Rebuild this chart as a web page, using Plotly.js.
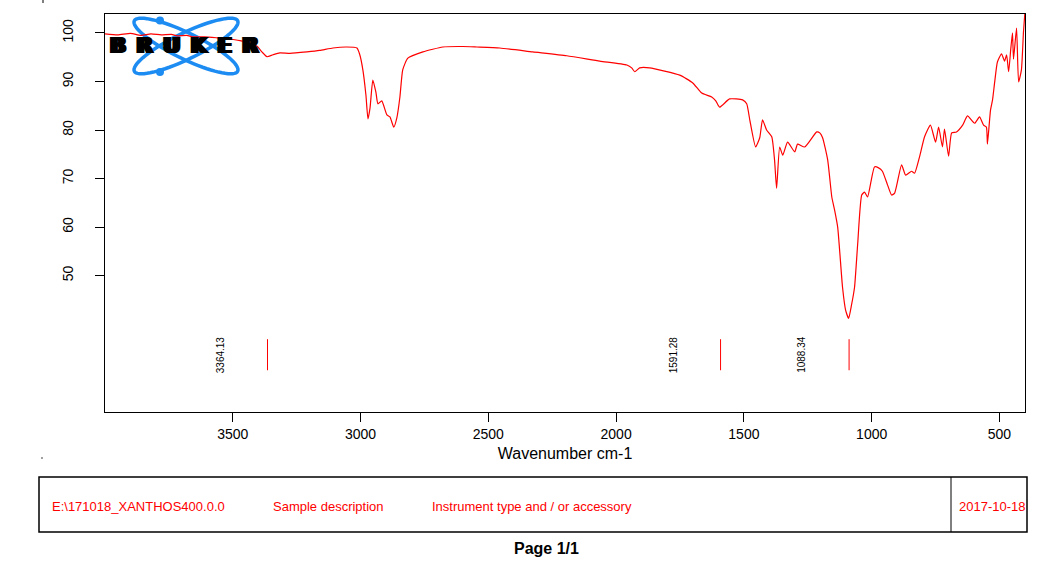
<!DOCTYPE html>
<html>
<head>
<meta charset="utf-8">
<script src="https://cdn.plot.ly/plotly-3.0.1.min.js"></script>
<style>html,body{margin:0;padding:0;background:#fff;}#chart{width:1042px;height:565px;}</style>
</head>
<body>
<div id="chart"></div>
<script>
// ---- Data ----
const wavenumber = [
  4000, 3950, 3900, 3860, 3820, 3780, 3740, 3718, 3680, 3656,
  3610, 3562, 3520, 3472, 3440, 3406, 3386, 3366, 3343, 3316,
  3276, 3210, 3160, 3108, 3054, 3014, 3003, 2991, 2979, 2971,
  2963, 2952, 2940, 2932, 2917, 2897, 2885, 2870, 2858, 2846,
  2835, 2815, 2756, 2678, 2600, 2545, 2455, 2326, 2193, 2064,
  1958, 1939, 1927, 1908, 1869, 1751, 1700, 1665, 1626, 1610,
  1595, 1556, 1505, 1489, 1477, 1454, 1438, 1427, 1411, 1391,
  1380, 1372, 1360, 1348, 1329, 1301, 1290, 1262, 1215, 1203,
  1192, 1172, 1156, 1145, 1133, 1114, 1102, 1090, 1079, 1067,
  1055, 1039, 1028, 1016, 989, 973, 958, 938, 922, 910,
  883, 867, 844, 832, 813, 793, 770, 750, 738, 723,
  715, 699, 687, 668, 644, 625, 597, 578, 562, 551,
  547, 535, 527, 519, 508, 492, 480, 472, 464, 456,
  449, 445, 433, 425, 414, 406, 400
];
const transmittance = [
  99.8, 99.6, 99.9, 99.5, 99.8, 99.6, 99.7, 99.4, 99.5, 99.2,
  99.2, 99.0, 98.8, 98.4, 97.9, 97.3, 96.1, 95.1, 95.5, 95.9,
  95.8, 96.1, 96.4, 96.9, 97.1, 96.9, 95.5, 92.4, 87.2, 82.3,
  84.5, 90.3, 87.8, 85.4, 86.0, 83.1, 82.7, 80.6, 82.5, 86.8,
  92.4, 94.8, 96.1, 97.1, 97.2, 97.1, 96.9, 96.1, 95.3, 94.2,
  93.4, 92.8, 92.0, 92.8, 92.8, 91.3, 89.7, 87.6, 86.8, 86.0,
  84.7, 86.4, 86.2, 85.4, 82.1, 76.5, 78.4, 82.1, 80.0, 78.6,
  73.8, 68.0, 76.5, 74.8, 77.5, 75.5, 77.1, 76.5, 79.6, 79.4,
  78.4, 73.8, 66.2, 63.5, 60.0, 47.6, 42.9, 41.2, 43.9, 47.6,
  56.3, 66.6, 67.2, 66.2, 72.4, 72.2, 71.5, 68.7, 66.6, 67.0,
  72.8, 70.7, 71.5, 71.1, 74.4, 78.6, 81.0, 77.5, 80.6, 76.5,
  80.2, 74.6, 79.4, 79.6, 81.0, 82.9, 81.4, 82.7, 81.0, 80.6,
  77.1, 84.1, 86.2, 89.7, 94.0, 95.7, 94.2, 95.5, 92.0, 96.5,
  100.0, 94.6, 101.0, 89.9, 92.4, 100.2, 104.5
];
const peakWavenumbers = [3364.13, 1591.28, 1088.34];
const peakLabels = ["3364.13", "1591.28", "1088.34"];
const peakMarkTop = 36.9;
const peakMarkBottom = 30.5;
const xTicks = [3500, 3000, 2500, 2000, 1500, 1000, 500];
const yTicks = [50, 60, 70, 80, 90, 100];
const footerTexts = ["E:\\171018_XANTHOS400.0.0", "Sample description", "Instrument type and / or accessory"];
const footerDate = "2017-10-18";
const pageLabel = "Page 1/1";
const xTitle = "Wavenumber cm-1";
const logoText = "BRUKER";

// ---- Geometry helpers (pixel -> paper) ----
const W = 1042, H = 565;
const M = {l: 105, r: 17, t: 14, b: 153};
const PW = W - M.l - M.r, PH = H - M.t - M.b;
const px = v => (v - M.l) / PW;
const py = v => (H - M.b - v) / PH;

const FONT = "Liberation Sans, Arial, sans-serif";

// peak marker trace
const pkX = [], pkY = [];
peakWavenumbers.forEach(w => { pkX.push(w, w, null); pkY.push(peakMarkTop, peakMarkBottom, null); });

const traces = [
  {x: wavenumber, y: transmittance, type: 'scatter', mode: 'lines',
   line: {color: '#ff0000', width: 1.2, shape: 'spline', smoothing: 0.5}, hoverinfo: 'skip'},
  {x: pkX, y: pkY, type: 'scatter', mode: 'lines',
   line: {color: '#ff0000', width: 1}, hoverinfo: 'skip'}
];

// logo ellipses (decoration)
function ellipsePath(cx, cy, a, b, thDeg) {
  const th = thDeg * Math.PI / 180;
  let d = '';
  for (let i = 0; i <= 72; i++) {
    const t = i / 72 * 2 * Math.PI;
    const X = cx + a * Math.cos(t) * Math.cos(th) - b * Math.sin(t) * Math.sin(th);
    const Y = cy + a * Math.cos(t) * Math.sin(th) + b * Math.sin(t) * Math.cos(th);
    d += (i === 0 ? 'M' : 'L') + px(X).toFixed(5) + ',' + py(Y).toFixed(5);
  }
  return d + 'Z';
}
const BLUE = '#1c8cf2';
const shapes = [
  {type: 'path', xref: 'paper', yref: 'paper', path: ellipsePath(186, 46, 57.5, 13, 26), line: {color: BLUE, width: 3.5}, layer: 'below'},
  {type: 'path', xref: 'paper', yref: 'paper', path: ellipsePath(186, 46, 57.5, 13, -26), line: {color: BLUE, width: 3.5}, layer: 'below'},
  {type: 'circle', xref: 'paper', yref: 'paper', x0: px(156), x1: px(164), y0: py(16.5), y1: py(24.5), fillcolor: BLUE, line: {width: 0}, layer: 'below'},
  {type: 'circle', xref: 'paper', yref: 'paper', x0: px(156), x1: px(164), y0: py(68), y1: py(76), fillcolor: BLUE, line: {width: 0}, layer: 'below'},
  // footer box
  {type: 'rect', xref: 'paper', yref: 'paper', x0: px(39), x1: px(1027), y0: py(477), y1: py(532), line: {color: '#000', width: 1.5}},
  {type: 'line', xref: 'paper', yref: 'paper', x0: px(951), x1: px(951), y0: py(477), y1: py(532), line: {color: '#000', width: 1}},
  // tiny page marks
  {type: 'line', xref: 'paper', yref: 'paper', x0: px(43), x1: px(43), y0: py(0), y1: py(3), line: {color: '#000', width: 1}},
  {type: 'circle', xref: 'paper', yref: 'paper', x0: px(41.3), x1: px(42.7), y0: py(457.3), y1: py(458.7), fillcolor: '#000', line: {width: 0}}
];

const annotations = [];
peakWavenumbers.forEach((w, i) => {
  annotations.push({x: w, y: (peakMarkTop + peakMarkBottom) / 2, xref: 'x', yref: 'y', text: peakLabels[i],
    showarrow: false, textangle: -90, xshift: -47, font: {family: FONT, size: 10, color: '#000'}});
});
annotations.push({x: px(184), y: py(46), xref: 'paper', yref: 'paper', text: '<b>' + logoText.split('').join('\u2002') + '</b>',
  showarrow: false, xanchor: 'center', yanchor: 'middle',
  font: {family: 'DejaVu Sans, sans-serif', size: 21, color: '#000',
         shadow: '2px 0 0 #000, -2px 0 0 #000, 1px 0 0 #000, -1px 0 0 #000'}});
const footerX = [50, 271, 430];
footerTexts.forEach((t, i) => {
  annotations.push({x: px(footerX[i]), y: py(506), xref: 'paper', yref: 'paper', text: t, showarrow: false,
    xanchor: 'left', yanchor: 'middle', font: {family: FONT, size: 13, color: '#ff0000'}});
});
annotations.push({x: px(957), y: py(506), xref: 'paper', yref: 'paper', text: footerDate, showarrow: false,
  xanchor: 'left', yanchor: 'middle', font: {family: FONT, size: 13, color: '#ff0000'}});
annotations.push({x: px(546), y: py(548), xref: 'paper', yref: 'paper', text: '<b>' + pageLabel + '</b>', showarrow: false,
  xanchor: 'center', yanchor: 'middle', font: {family: FONT, size: 16, color: '#000'}});

const layout = {
  width: W, height: H,
  margin: M,
  paper_bgcolor: '#fff', plot_bgcolor: '#fff',
  showlegend: false,
  font: {family: FONT, color: '#000'},
  xaxis: {
    range: [4000, 400], tickmode: 'array', tickvals: xTicks, ticktext: xTicks.map(String),
    ticks: 'outside', ticklen: 9, tickwidth: 1, tickcolor: '#000',
    showline: true, linecolor: '#000', linewidth: 1.3, mirror: true,
    showgrid: false, zeroline: false,
    tickfont: {family: FONT, size: 14, color: '#000'},
    title: {text: xTitle, font: {family: FONT, size: 16, color: '#000'}, standoff: 6}
  },
  yaxis: {
    range: [21.9, 103.9], tickmode: 'array', tickvals: yTicks, ticktext: yTicks.map(String),
    tickangle: -90,
    ticks: 'outside', ticklen: 9, tickwidth: 1, tickcolor: '#000',
    showline: true, linecolor: '#000', linewidth: 1.3, mirror: true,
    showgrid: false, zeroline: false,
    tickfont: {family: FONT, size: 14, color: '#000'},
    ticklabelstandoff: 16
  },
  shapes: shapes,
  annotations: annotations
};

Plotly.newPlot('chart', traces, layout, {displayModeBar: false, staticPlot: true});
</script>
</body>
</html>
